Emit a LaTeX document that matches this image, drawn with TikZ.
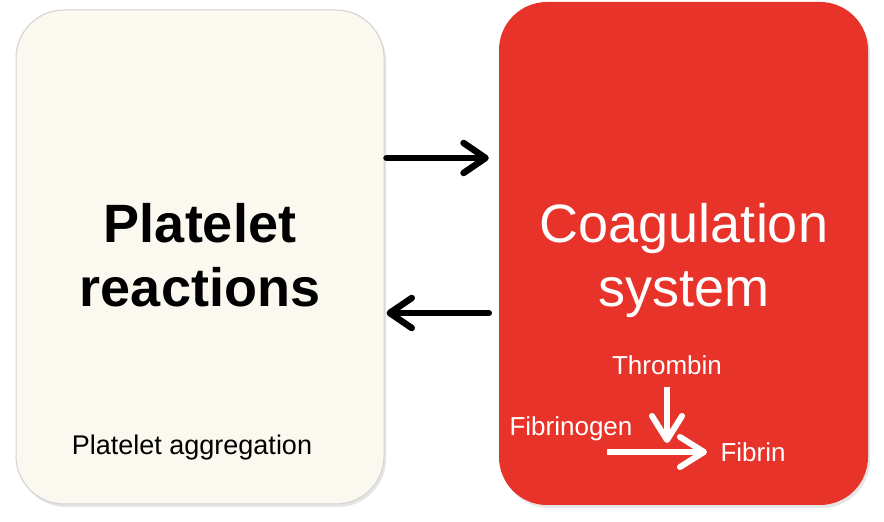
\documentclass[tikz,border=0pt]{standalone}
\usepackage{fontspec}
\setmainfont{Liberation Sans}
\usetikzlibrary{arrows.meta,shadows}
\definecolor{cream}{HTML}{FBF9EF}
\definecolor{coagred}{HTML}{E8332A}
\begin{document}
\begin{tikzpicture}[x=1pt,y=1pt,
  box/.style={rectangle, rounded corners=48pt, inner sep=0pt,
    drop shadow={opacity=0.2, shadow xshift=2pt, shadow yshift=-3pt}},
  bigtxt/.style={font=\fontsize{54}{64}\selectfont, align=center, inner sep=0pt},
  smalltxt/.style={font=\fontsize{26}{30}\selectfont, inner sep=0pt, anchor=base},
  blackarrow/.style={line width=6.5pt, line cap=round, -{Straight Barb[length=22pt,width=30pt,line cap=round,line join=round]}},
  whitearrow/.style={white, line width=6pt, -{Straight Barb[length=24pt,width=30pt,line cap=round,line join=round]}}]
\useasboundingbox (0,0) rectangle (884,522);
\fill[white] (0,0) rectangle (884,522);
\node[box, fill=cream, draw=gray!35, line width=1pt, minimum width=368pt, minimum height=494pt] (L) at (200,265) {};
\node[box, fill=coagred, minimum width=369pt, minimum height=503pt] (R) at (683.5,268.5) {};
\node[bigtxt, font=\fontsize{54}{64}\selectfont\bfseries] (pr) at (200,266.5) {Platelet\\reactions};
\node[bigtxt, text=white] (cs) at (684,261.3) {Coagulation\\system};
\node[smalltxt, font=\fontsize{27}{30}\selectfont] (pa) at (192,67) {Platelet aggregation};
\node[smalltxt, text=white] (th) at (667,147) {Thrombin};
\node[smalltxt, text=white] (fg) at (571,86) {Fibrinogen};
\node[smalltxt, text=white] (fb) at (753,60) {Fibrin};
\coordinate (vend) at (667,79);
\coordinate (hstart) at (607,70);
\coordinate (hend) at (707,70);
\draw[blackarrow] ([xshift=2pt,yshift=99pt]L.east) -- ([xshift=-10pt,yshift=95.5pt]R.west);
\draw[blackarrow] ([xshift=-10pt,yshift=-59.5pt]R.west) -- ([xshift=2pt,yshift=-56pt]L.east);
\draw[whitearrow] ([yshift=-12pt]th.south) -- (vend);
\draw[whitearrow] (hstart) -- (hend);
\end{tikzpicture}
\end{document}
